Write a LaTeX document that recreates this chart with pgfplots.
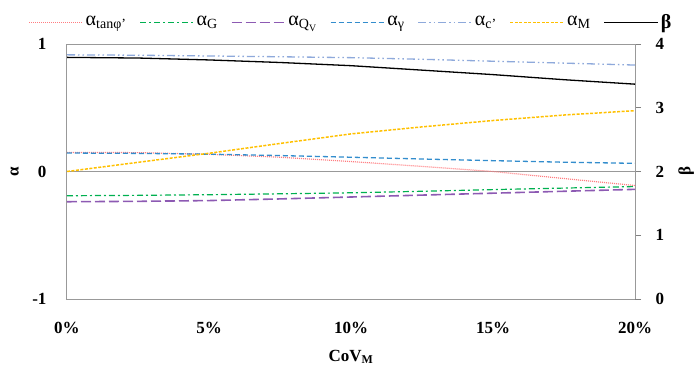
\documentclass[border=0pt]{standalone}
\usepackage{fontspec}
\setmainfont{Liberation Serif}
\usepackage{pgfplots}
\pgfplotsset{compat=1.18}
\definecolor{cred}{HTML}{FF7C80}
\definecolor{cgreen}{HTML}{00B050}
\definecolor{cpurple}{HTML}{7030A0}
\definecolor{cblue}{HTML}{0070C0}
\definecolor{clblue}{HTML}{8EA9DB}
\definecolor{cyellow}{HTML}{FFC000}
\pgfplotsset{
  every axis/.append style={
    scale only axis, width=568pt, height=255pt,
    xmin=0, xmax=20,
    /pgf/number format/assume math mode=true,
    tick style={gray, line width=0.8pt},
    axis line style={gray!80, line width=1pt},
  },
}
\begin{document}
\fontsize{16}{19}\selectfont
\begin{tikzpicture}[x=1pt,y=1pt]
\path[use as bounding box] (-67,-77) rectangle (631,299);
\begin{axis}[
  at={(0,0)}, anchor=south west,
  ymin=-1, ymax=1,
  ytick={-1,0,1},
  yticklabels={\textbf{-1},\textbf{0},\textbf{1}},
  xtick={0,5,10,15,20},
  xticklabels={\textbf{0\%},\textbf{5\%},\textbf{10\%},\textbf{15\%},\textbf{20\%}},
  ticklabel style={font=\fontsize{17}{20}\selectfont},
  xtick pos=bottom, ytick pos=left,
  major tick length=0pt,
  yticklabel style={xshift=-15pt},
  xticklabel style={yshift=-18pt},
  xlabel={\textbf{CoV\textsubscript{M}}},
  xlabel style={at={(axis description cs:0.5,-0.227)}, anchor=center, font=\fontsize{17}{20}\selectfont},
  ylabel={\textbf{α}},
  ylabel style={at={(axis description cs:-0.092,0.5)}, anchor=center, font=\fontsize{17}{20}\selectfont},
  legend columns=7,
  legend style={draw=none, fill=none, at={(0.5,1.085)}, anchor=center,
    font=\fontsize{20}{23}\selectfont,
    /tikz/every even column/.append style={column sep=11pt},
    inner sep=0pt},
  legend image code/.code={\draw[#1] (0pt,0pt) -- (54pt,0pt);},
]
\addplot[gray!80, line width=1pt, forget plot] coordinates {(0,0) (20,0)};
\addplot[cred, line width=1.2pt, dash pattern=on 1pt off 1pt] coordinates {
(0,0.150) (2.5,0.148) (5,0.135) (7.5,0.112) (10,0.078) (12.5,0.040) (15,0.000) (17.5,-0.055) (20,-0.110)};
\addlegendentry{α\textsubscript{tanφ'}}
\addplot[cgreen, line width=1.2pt, dash pattern=on 6pt off 3pt on 2pt off 3pt] coordinates {
(0,-0.190) (2.5,-0.187) (5,-0.182) (7.5,-0.175) (10,-0.167) (12.5,-0.155) (15,-0.142) (17.5,-0.130) (20,-0.118)};
\addlegendentry{α\textsubscript{G}}
\addplot[cpurple!80, line width=1.6pt, dash pattern=on 10pt off 4pt] coordinates {
(0,-0.237) (2.5,-0.234) (5,-0.228) (7.5,-0.215) (10,-0.200) (12.5,-0.185) (15,-0.170) (17.5,-0.155) (20,-0.140)};
\addlegendentry{α\textsubscript{Q\textsubscript{V}}}
\addplot[cblue!80, line width=1.3pt, dash pattern=on 5pt off 3pt] coordinates {
(0,0.145) (2.5,0.142) (5,0.136) (7.5,0.125) (10,0.112) (12.5,0.098) (15,0.085) (17.5,0.073) (20,0.064)};
\addlegendentry{α\textsubscript{γ}}
\addplot[clblue, line width=1.3pt, dash pattern=on 8pt off 3pt on 1.5pt off 3pt on 1.5pt off 3pt] coordinates {
(0,0.915) (2.5,0.912) (5,0.906) (7.5,0.900) (10,0.893) (12.5,0.880) (15,0.865) (17.5,0.850) (20,0.835)};
\addlegendentry{α\textsubscript{c'}}
\addplot[cyellow, line width=1.5pt, dash pattern=on 3pt off 1.5pt] coordinates {
(0,0.000) (2.5,0.072) (5,0.143) (7.5,0.220) (10,0.295) (12.5,0.350) (15,0.400) (17.5,0.443) (20,0.477)};
\addlegendentry{α\textsubscript{M}}
\addlegendimage{black, line width=1.3pt}
\addlegendentry{\textbf{β}}
\end{axis}
\begin{axis}[
  at={(0,0)}, anchor=south west,
  ymin=0, ymax=4,
  ytick={0,1,2,3,4},
  yticklabels={\textbf{0},\textbf{1},\textbf{2},\textbf{3},\textbf{4}},
  ticklabel style={font=\fontsize{17}{20}\selectfont},
  axis x line=none, axis y line*=right,
  major tick length=6pt, tick align=outside,
  yticklabel style={xshift=9pt},
  ylabel={\textbf{β}},
  ylabel style={at={(axis description cs:1.09,0.5)}, anchor=center, font=\fontsize{17}{20}\selectfont},
]
\addplot[black, line width=1.3pt] coordinates {
(0,3.79) (2.5,3.78) (5,3.75) (7.5,3.71) (10,3.66) (12.5,3.59) (15,3.52) (17.5,3.44) (20,3.37)};
\end{axis}
\end{tikzpicture}
\end{document}
